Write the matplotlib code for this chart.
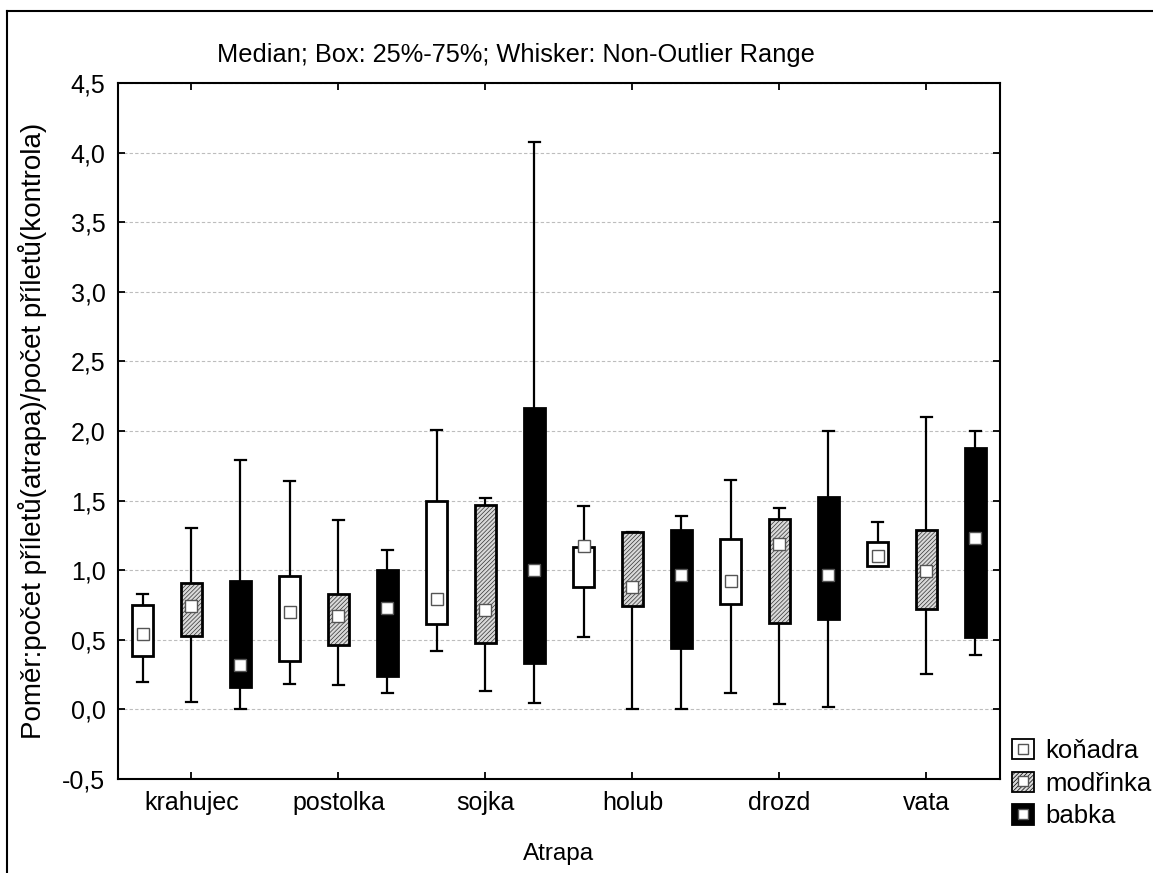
import numpy as np
import matplotlib
matplotlib.use('Agg')
import matplotlib.pyplot as plt
from matplotlib.patches import Rectangle, Patch
from matplotlib.lines import Line2D
from matplotlib.ticker import FuncFormatter

plt.rcParams['font.family'] = ['Liberation Sans', 'DejaVu Sans']
plt.rcParams['hatch.linewidth'] = 0.5

atrapy = ['krahujec', 'postolka', 'sojka', 'holub', 'drozd', 'vata']
druhy = ['koňadra', 'modřinka', 'babka']

# rows follow atrapy: (whisker low, 25 %, median, 75 %, whisker high)
konadra = [(0.20, 0.386, 0.544, 0.750, 0.830),
           (0.185, 0.347, 0.697, 0.958, 1.644),
           (0.422, 0.616, 0.796, 1.500, 2.006),
           (0.520, 0.877, 1.170, 1.167, 1.462),
           (0.120, 0.757, 0.925, 1.227, 1.650),
           (1.028, 1.028, 1.105, 1.203, 1.344)]
modrinka = [(0.053, 0.525, 0.740, 0.908, 1.300),
            (0.173, 0.465, 0.671, 0.832, 1.359),
            (0.134, 0.477, 0.712, 1.470, 1.520),
            (0.000, 0.743, 0.882, 1.272, 1.272),
            (0.038, 0.620, 1.188, 1.371, 1.445),
            (0.254, 0.721, 0.994, 1.287, 2.097)]
babka = [(0.000, 0.160, 0.320, 0.920, 1.790),
         (0.115, 0.237, 0.728, 1.000, 1.145),
         (0.048, 0.331, 1.004, 2.166, 4.078),
         (0.000, 0.440, 0.966, 1.289, 1.387),
         (0.017, 0.647, 0.963, 1.526, 2.000),
         (0.393, 0.520, 1.232, 1.874, 2.000)]

styles = {
    'koňadra': dict(face='white', hatch=None),
    'modřinka': dict(face='#d9d9d9', hatch='////////'),
    'babka': dict(face='black', hatch=None),
}
offsets = [-0.333, 0.0, 0.333]
box_w = 0.14
cap_w = 0.075

fig = plt.figure(figsize=(11.53, 8.73), dpi=100)
ax = fig.add_axes([0.1023, 0.1077, 0.7650, 0.7973])

for data, name, off in zip([konadra, modrinka, babka], druhy, offsets):
    st = styles[name]
    for i, (lo, q1, med, q3, hi) in enumerate(data):
        x = i + 0.5 + off
        # whisker + caps
        ax.plot([x, x], [lo, hi], color='black', lw=1.6, zorder=2, solid_capstyle='butt')
        ax.plot([x - cap_w / 2, x + cap_w / 2], [hi, hi], color='black', lw=1.6, zorder=2)
        ax.plot([x - cap_w / 2, x + cap_w / 2], [lo, lo], color='black', lw=1.6, zorder=2)
        if st['hatch']:
            ax.add_patch(Rectangle((x - box_w / 2, q1), box_w, q3 - q1, facecolor=st['face'],
                                   edgecolor='#333333', hatch=st['hatch'], lw=0, zorder=3))
            ax.add_patch(Rectangle((x - box_w / 2, q1), box_w, q3 - q1, fill=False,
                                   edgecolor='black', lw=2.0, zorder=4))
        else:
            ax.add_patch(Rectangle((x - box_w / 2, q1), box_w, q3 - q1, facecolor=st['face'],
                                   edgecolor='black', lw=2.0, zorder=3))
        ax.plot([x], [med], marker='s', ms=8, mfc='white', mec='#555555', mew=1.0,
                ls='none', zorder=5)

ax.set_xlim(0, 6)
ax.set_ylim(-0.5, 4.5)
ax.set_yticks(np.arange(-0.5, 4.51, 0.5))
ax.yaxis.set_major_formatter(FuncFormatter(lambda v, p: f'{v:.1f}'.replace('.', ',')))
ax.set_xticks(np.arange(6) + 0.5)
ax.set_xticklabels(atrapy)
ax.tick_params(direction='in', length=5, width=1.3, labelsize=18,
               top=True, right=True, pad=9)
ax.grid(axis='y', color='#bdbdbd', ls=(0, (3, 2)), lw=0.8)
ax.set_axisbelow(True)
for sp in ax.spines.values():
    sp.set_linewidth(1.5)

ax.set_xlabel('Atrapa', fontsize=17.5, labelpad=20)
ax.set_ylabel('Poměr:počet příletů(atrapa)/počet příletů(kontrola)', fontsize=20, labelpad=11)
fig.text(516 / 1153, 1 - 55 / 873, 'Median; Box: 25%-75%; Whisker: Non-Outlier Range',
         ha='center', va='center', fontsize=18.3)

# legend
handles = []
for name in druhy:
    st = styles[name]
    p = Patch(facecolor=st['face'], edgecolor='black', hatch=st['hatch'], lw=1.3)
    m = Line2D([], [], marker='s', ms=7, mfc='white', mec='#555555', ls='none')
    handles.append((p, m))
fig.legend(handles, druhy, loc='upper left', bbox_to_anchor=(1012 / 1153, 1 - 739 / 873),
           frameon=False, fontsize=18.5, handlelength=0.85, handleheight=0.85,
           handletextpad=0.45, labelspacing=0.33, borderaxespad=0, borderpad=0)

# outer frame
fig.add_artist(Line2D([7 / 1153, 1], [1 - 11 / 873, 1 - 11 / 873], color='black', lw=1.5))
fig.add_artist(Line2D([7 / 1153, 7 / 1153], [0, 1 - 11 / 873], color='black', lw=1.5))

fig.savefig('out.png', dpi=100)
